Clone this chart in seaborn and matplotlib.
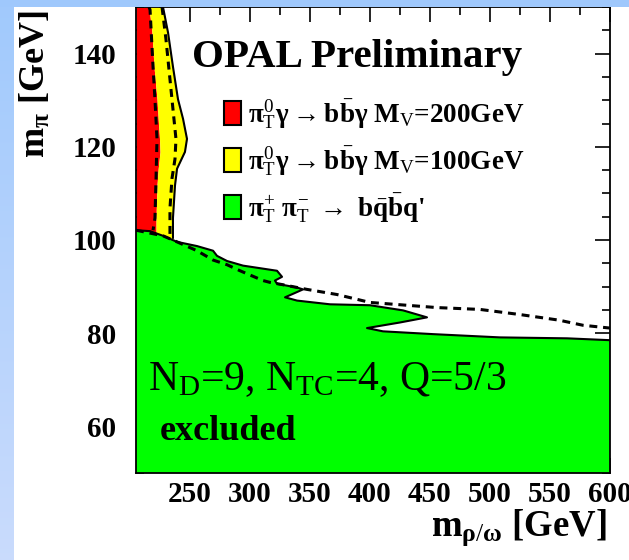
import numpy as np
import matplotlib
matplotlib.use("Agg")
import matplotlib.pyplot as plt
from matplotlib.patches import Rectangle
from matplotlib.ticker import MultipleLocator
import seaborn as sns

# ---- limits in the (m_rho/omega, m_pi) plane -------------------------------
# common m_pi levels for the two photon-channel contours (edges are x(y))
edge_y = [150, 144.5, 137.2, 130.2, 126.0, 121.7, 118.9, 115.3, 111.7, 104.7, 100.4, 98.0]
# observed edge, pi_T^0 gamma -> b bbar gamma, M_V = 200 GeV
red_x = [215.8, 218.3, 220.0, 222.5, 223.5, 224.6, 225.0, 223.5, 222.5, 221.7, 221.7, 221.7]
# observed edge, pi_T^0 gamma -> b bbar gamma, M_V = 100 GeV
yel_x = [227.5, 231.7, 235.8, 240.0, 244.2, 247.5, 245.8, 239.2, 237.5, 235.8, 235.8, 235.8]

# expected limits for the photon channels
exp200_y = [150, 149.4, 137.2, 130.2, 121.7, 113.2, 104.7, 102.1]
exp200_x = [215.8, 216.7, 219.2, 220.8, 222.5, 221.7, 220.8, 219.2]
exp100_y = [150, 143.0, 134.5, 128.1, 121.7, 117.4, 113.2, 106.8, 100.9]
exp100_x = [226.7, 230.0, 233.3, 235.8, 238.3, 237.5, 235.0, 233.3, 233.3]

# observed edge, pi_T^+ pi_T^- -> b qbar bbar q'
green_x = [205, 216.7, 227.5, 239.2, 255.8, 269.2, 272.5, 280.8, 294.2, 322.5, 326.7,
           320.8, 322.5, 339.2, 344.2, 329.2, 339.2, 366.7, 400.0, 427.5, 447.5,
           425.0, 397.5, 410.8, 452.5, 508.3, 564.2, 600]
green_y = [102.1, 101.9, 100.9, 99.6, 98.7, 97.7, 96.6, 95.5, 94.5, 93.4, 92.1,
           91.3, 90.6, 89.8, 89.4, 87.7, 87.0, 86.2, 86.0, 84.9, 83.4,
           82.3, 81.1, 80.4, 79.8, 79.1, 78.9, 78.5]
# expected limit, charged channel
expg_x = [205, 227.5, 239.2, 255.8, 269.2, 280.8, 291.7, 310.8, 316.7, 327.5, 347.5,
          372.5, 400.0, 455.8, 491.7, 525.0, 557.5, 577.5, 600]
expg_y = [102.1, 100.9, 99.6, 97.7, 95.7, 94.7, 93.4, 91.3, 90.9, 90.4, 89.4,
          88.3, 86.6, 85.5, 85.1, 84.0, 82.8, 81.7, 81.1]

legend_labels = [
    r"$\pi^{0}_{\mathrm{T}}\gamma\rightarrow b\bar{b}\gamma$ M$_{\mathrm{V}}$=200GeV",
    r"$\pi^{0}_{\mathrm{T}}\gamma\rightarrow b\bar{b}\gamma$ M$_{\mathrm{V}}$=100GeV",
    r"$\pi^{+}_{\mathrm{T}}\;\pi^{-}_{\mathrm{T}}\;\rightarrow\; b\bar{q}\bar{b}$q'",
]
legend_colors = ["#ff0000", "#ffff00", "#00ff00"]

x_ticks_major, x_ticks_minor = 50, 25
y_ticks_major, y_ticks_minor = 20, 5

# ---- style -----------------------------------------------------------------
sns.set_theme(style="ticks")
plt.rcParams["font.family"] = ["Liberation Serif", "DejaVu Sans"]
plt.rcParams["text.color"] = "black"
plt.rcParams["mathtext.fontset"] = "custom"
plt.rcParams["mathtext.rm"] = "Liberation Serif"
plt.rcParams["mathtext.it"] = "Liberation Serif:bold"
plt.rcParams["mathtext.bf"] = "Liberation Serif:bold"

W, H = 629, 560
fig = plt.figure(figsize=(W / 100, H / 100), dpi=100)
fig.patch.set_facecolor("white")

# slide-style frame: light-blue gradient at the left and a band on top
strip = fig.add_axes([0, 0, 14 / W, 1], zorder=-5)
grad = np.linspace(0, 1, 256)[:, None, None]
top_c = np.array([0.63, 0.79, 0.99])
bot_c = np.array([0.79, 0.86, 0.99])
strip.imshow(top_c * (1 - grad) + bot_c * grad, aspect="auto", extent=[0, 1, 0, 1])
strip.axis("off")
fig.add_artist(Rectangle((0, 1 - 7 / H), 1, 7 / H, transform=fig.transFigure,
                         facecolor="#9fc8fc", edgecolor="none", zorder=10))

ax = fig.add_axes([136 / W, 87 / H, 474 / W, 466 / H])
ax.set_facecolor("white")

# filled excluded regions
ax.fill_betweenx(edge_y, 205, red_x, color=legend_colors[0], lw=0, zorder=1)
ax.fill_betweenx(edge_y, red_x, yel_x, color=legend_colors[1], lw=0, zorder=1)
ax.fill(green_x + [600, 205], green_y + [50, 50], color=legend_colors[2], lw=0, zorder=2)

# contour outlines
sns.lineplot(x=yel_x[:-1], y=edge_y[:-1], sort=False, estimator=None,
             color="black", lw=1.5, ax=ax, zorder=3)
sns.lineplot(x=green_x, y=green_y, sort=False, estimator=None,
             color="black", lw=1.5, ax=ax, zorder=3)
for xs, ys in [(exp200_x, exp200_y), (exp100_x, exp100_y), (expg_x, expg_y)]:
    sns.lineplot(x=xs, y=ys, sort=False, estimator=None, color="black",
                 lw=2.2, ax=ax, zorder=4)
    ax.lines[-1].set_dashes([2.6, 1.9])

ax.set_xlim(205, 600)
ax.set_ylim(50, 150)
ax.set_xlabel("")
ax.set_ylabel("")
ax.xaxis.set_major_locator(MultipleLocator(x_ticks_major))
ax.xaxis.set_minor_locator(MultipleLocator(x_ticks_minor))
ax.yaxis.set_major_locator(MultipleLocator(y_ticks_major))
ax.yaxis.set_minor_locator(MultipleLocator(y_ticks_minor))
ax.tick_params(which="both", direction="in", top=True, right=True,
               width=1.2, color="black", labelcolor="black")
ax.tick_params(which="major", length=11, labelsize=21)
ax.tick_params(which="minor", length=6)
ax.tick_params(axis="y", pad=14)
ax.tick_params(axis="x", pad=6)
for lab in ax.get_xticklabels() + ax.get_yticklabels():
    lab.set_fontweight("bold")
for sp in ax.spines.values():
    sp.set_visible(True)
    sp.set_color("black")
    sp.set_linewidth(1.3)
    sp.set_zorder(6)

# title and legend
ax.text(0.118, 0.871, "OPAL Preliminary", transform=ax.transAxes, color="black",
        fontsize=29.5, fontweight="bold", ha="left", va="baseline", zorder=7)
box_bottoms = [0.7468, 0.6459, 0.5451]
for yb, col, lab in zip(box_bottoms, legend_colors, legend_labels):
    ax.add_patch(Rectangle((0.1857, yb), 0.0358, 0.052, transform=ax.transAxes,
                           facecolor=col, edgecolor="black", lw=1.5, zorder=7))
    ax.text(0.236, yb + 0.024, lab, transform=ax.transAxes, fontsize=19.5,
            color="black", fontweight="bold", ha="left", va="center", zorder=7)

ax.text(0.025, 0.178, r"N$_{\mathrm{D}}$=9, N$_{\mathrm{TC}}$=4, Q=5/3", color="black",
        transform=ax.transAxes, fontsize=30, ha="left", va="baseline", zorder=7)
ax.text(0.0506, 0.0708, "excluded", transform=ax.transAxes, fontsize=26,
        color="black", fontweight="bold", ha="left", va="baseline", zorder=7)

# axis titles
fig.text(607 / W, 1 - 536 / H, r"m$_{\rho/\omega}$ [GeV]", fontsize=26.5,
         color="black", fontweight="bold", ha="right", va="baseline")
fig.text(36 / W, 1 - 10 / H, r"m$_{\pi}$ [GeV]", fontsize=26, fontweight="bold",
         color="black", rotation=90, ha="center", va="top")

fig.savefig("out.png", dpi=100)
